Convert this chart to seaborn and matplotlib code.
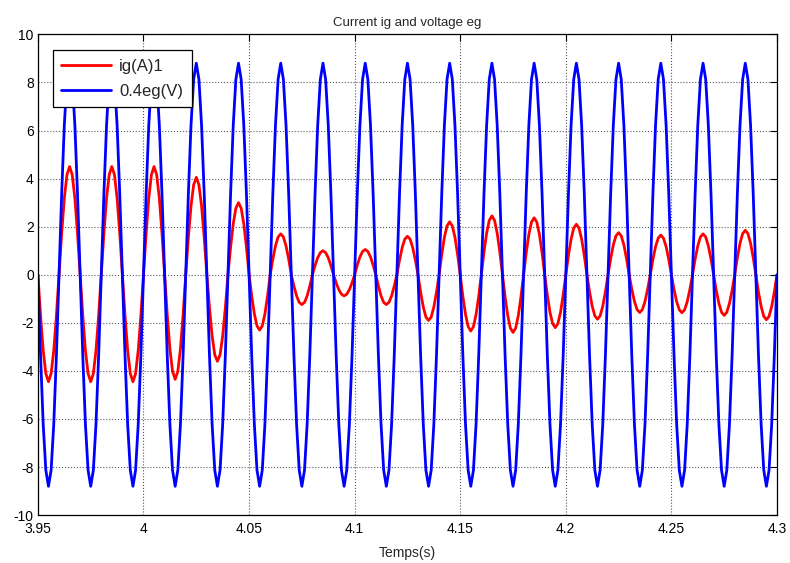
import numpy as np
import pandas as pd
import matplotlib
matplotlib.use("Agg")
import matplotlib.pyplot as plt
import seaborn as sns

# sampled every 1.25 ms (16 samples per 50 Hz cycle), 3.95 s .. 4.30 s
t = np.linspace(3.95, 4.30, 281)

ig = [
    0, -1.70, -3.15, -4.11, -4.45, -4.11, -3.15, -1.70, 0, 1.72, 3.18, 4.16, 4.50, 4.16, 3.18, 1.72,
    0, -1.70, -3.15, -4.11, -4.45, -4.11, -3.15, -1.70, 0, 1.72, 3.18, 4.16, 4.50, 4.16, 3.18, 1.72,
    0, -1.70, -3.15, -4.11, -4.45, -4.11, -3.15, -1.70, 0, 1.72, 3.18, 4.16, 4.50, 4.16, 3.18, 1.72,
    0, -1.67, -3.08, -4.02, -4.35, -4.02, -3.08, -1.67, 0, 1.55, 2.86, 3.74, 4.05, 3.74, 2.86, 1.55,
    0, -1.38, -2.55, -3.33, -3.60, -3.33, -2.55, -1.38, 0, 1.15, 2.12, 2.77, 3.00, 2.77, 2.12, 1.15,
    0, -0.88, -1.63, -2.13, -2.30, -2.13, -1.63, -0.88, 0, 0.65, 1.20, 1.57, 1.70, 1.57, 1.20, 0.65,
    0, -0.47, -0.88, -1.15, -1.24, -1.15, -0.88, -0.47, 0, 0.38, 0.71, 0.92, 1.00, 0.92, 0.71, 0.38,
    0, -0.34, -0.62, -0.81, -0.88, -0.81, -0.62, -0.34, 0, 0.40, 0.74, 0.97, 1.05, 0.97, 0.74, 0.40,
    0, -0.47, -0.88, -1.15, -1.24, -1.15, -0.88, -0.47, 0, 0.61, 1.13, 1.48, 1.60, 1.48, 1.13, 0.61,
    0, -0.73, -1.34, -1.76, -1.90, -1.76, -1.34, -0.73, 0, 0.84, 1.56, 2.03, 2.20, 2.03, 1.56, 0.84,
    0, -0.90, -1.65, -2.16, -2.34, -2.16, -1.65, -0.90, 0, 0.94, 1.73, 2.26, 2.45, 2.26, 1.73, 0.94,
    0, -0.92, -1.70, -2.22, -2.40, -2.22, -1.70, -0.92, 0, 0.91, 1.68, 2.19, 2.37, 2.19, 1.68, 0.91,
    0, -0.84, -1.56, -2.03, -2.20, -2.03, -1.56, -0.84, 0, 0.80, 1.48, 1.94, 2.10, 1.94, 1.48, 0.80,
    0, -0.71, -1.31, -1.71, -1.85, -1.71, -1.31, -0.71, 0, 0.67, 1.24, 1.62, 1.75, 1.62, 1.24, 0.67,
    0, -0.60, -1.11, -1.45, -1.57, -1.45, -1.11, -0.60, 0, 0.63, 1.17, 1.52, 1.65, 1.52, 1.17, 0.63,
    0, -0.61, -1.12, -1.46, -1.58, -1.46, -1.12, -0.61, 0, 0.65, 1.20, 1.57, 1.70, 1.57, 1.20, 0.65,
    0, -0.65, -1.19, -1.56, -1.69, -1.56, -1.19, -0.65, 0, 0.71, 1.31, 1.71, 1.85, 1.71, 1.31, 0.71,
    0, -0.72, -1.32, -1.73, -1.87, -1.73, -1.32, -0.72, 0,
]

eg04 = [
    0, -3.37, -6.22, -8.13, -8.80, -8.13, -6.22, -3.37, 0, 3.37, 6.22, 8.13, 8.80, 8.13, 6.22, 3.37,
    0, -3.37, -6.22, -8.13, -8.80, -8.13, -6.22, -3.37, 0, 3.37, 6.22, 8.13, 8.80, 8.13, 6.22, 3.37,
    0, -3.37, -6.22, -8.13, -8.80, -8.13, -6.22, -3.37, 0, 3.37, 6.22, 8.13, 8.80, 8.13, 6.22, 3.37,
    0, -3.37, -6.22, -8.13, -8.80, -8.13, -6.22, -3.37, 0, 3.37, 6.22, 8.13, 8.80, 8.13, 6.22, 3.37,
    0, -3.37, -6.22, -8.13, -8.80, -8.13, -6.22, -3.37, 0, 3.37, 6.22, 8.13, 8.80, 8.13, 6.22, 3.37,
    0, -3.37, -6.22, -8.13, -8.80, -8.13, -6.22, -3.37, 0, 3.37, 6.22, 8.13, 8.80, 8.13, 6.22, 3.37,
    0, -3.37, -6.22, -8.13, -8.80, -8.13, -6.22, -3.37, 0, 3.37, 6.22, 8.13, 8.80, 8.13, 6.22, 3.37,
    0, -3.37, -6.22, -8.13, -8.80, -8.13, -6.22, -3.37, 0, 3.37, 6.22, 8.13, 8.80, 8.13, 6.22, 3.37,
    0, -3.37, -6.22, -8.13, -8.80, -8.13, -6.22, -3.37, 0, 3.37, 6.22, 8.13, 8.80, 8.13, 6.22, 3.37,
    0, -3.37, -6.22, -8.13, -8.80, -8.13, -6.22, -3.37, 0, 3.37, 6.22, 8.13, 8.80, 8.13, 6.22, 3.37,
    0, -3.37, -6.22, -8.13, -8.80, -8.13, -6.22, -3.37, 0, 3.37, 6.22, 8.13, 8.80, 8.13, 6.22, 3.37,
    0, -3.37, -6.22, -8.13, -8.80, -8.13, -6.22, -3.37, 0, 3.37, 6.22, 8.13, 8.80, 8.13, 6.22, 3.37,
    0, -3.37, -6.22, -8.13, -8.80, -8.13, -6.22, -3.37, 0, 3.37, 6.22, 8.13, 8.80, 8.13, 6.22, 3.37,
    0, -3.37, -6.22, -8.13, -8.80, -8.13, -6.22, -3.37, 0, 3.37, 6.22, 8.13, 8.80, 8.13, 6.22, 3.37,
    0, -3.37, -6.22, -8.13, -8.80, -8.13, -6.22, -3.37, 0, 3.37, 6.22, 8.13, 8.80, 8.13, 6.22, 3.37,
    0, -3.37, -6.22, -8.13, -8.80, -8.13, -6.22, -3.37, 0, 3.37, 6.22, 8.13, 8.80, 8.13, 6.22, 3.37,
    0, -3.37, -6.22, -8.13, -8.80, -8.13, -6.22, -3.37, 0, 3.37, 6.22, 8.13, 8.80, 8.13, 6.22, 3.37,
    0, -3.37, -6.22, -8.13, -8.80, -8.13, -6.22, -3.37, 0,
]

series_names = ["ig(A)1", "0.4eg(V)"]
x_ticks = [3.95, 4.0, 4.05, 4.1, 4.15, 4.2, 4.25, 4.3]
x_labels = ["3.95", "4", "4.05", "4.1", "4.15", "4.2", "4.25", "4.3"]
y_ticks = list(range(-10, 11, 2))

df = pd.concat([
    pd.DataFrame({"t": t, "value": ig, "series": series_names[0]}),
    pd.DataFrame({"t": t, "value": eg04, "series": series_names[1]}),
])

sns.set_style("white")
plt.rcParams["font.family"] = ["Liberation Sans", "DejaVu Sans"]
plt.rcParams["font.size"] = 10
plt.rcParams["axes.unicode_minus"] = False

fig = plt.figure(figsize=(7.9, 5.63), dpi=100)
ax = fig.add_axes([0.048, 0.085, 0.9355, 0.854])

sns.lineplot(data=df, x="t", y="value", hue="series", hue_order=series_names,
             palette={"ig(A)1": "#ff0000", "0.4eg(V)": "#0000ff"},
             linewidth=2, sort=False, estimator=None, ax=ax)

ax.set_xlim(3.95, 4.3)
ax.set_ylim(-10, 10)
ax.set_xticks(x_ticks)
ax.set_xticklabels(x_labels)
ax.set_yticks(y_ticks)
ax.grid(True, linestyle=":", color="0.35", linewidth=0.8)
ax.tick_params(direction="in", length=5, width=0.8, top=True, right=True,
               labelsize=10, colors="black")
ax.tick_params(axis="x", pad=5)
ax.tick_params(axis="y", pad=3)
for s in ax.spines.values():
    s.set_visible(True)
    s.set_color("black")
    s.set_linewidth(0.9)

ax.set_title("Current ig and voltage eg", fontsize=9.5, pad=6)
ax.set_xlabel("Temps(s)", fontsize=10, labelpad=7)
ax.set_ylabel("")

handles, labels = ax.get_legend_handles_labels()
leg = ax.legend(handles, labels, loc="upper left", bbox_to_anchor=(0.02, 0.967),
                borderaxespad=0, frameon=True, fancybox=False, framealpha=1,
                edgecolor="black", borderpad=0.5, handlelength=3.0,
                handletextpad=0.5, labelspacing=0.6,
                prop={"family": "Liberation Sans", "size": 12})
leg.get_frame().set_linewidth(0.9)

fig.savefig("out.png", dpi=100, facecolor="white")
